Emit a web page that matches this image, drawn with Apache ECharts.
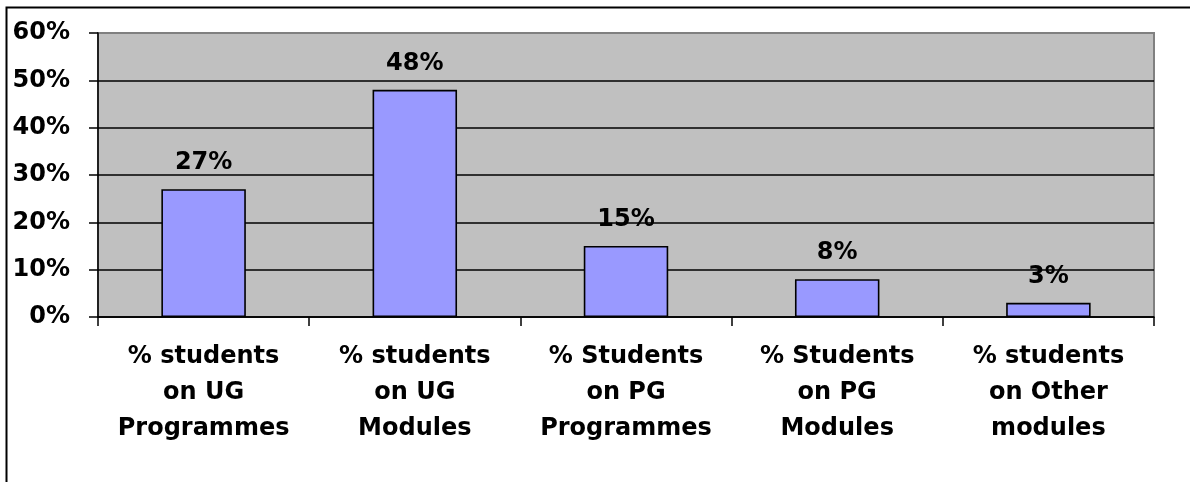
<!DOCTYPE html>
<html>
<head>
<meta charset="utf-8">
<script src="https://cdn.jsdelivr.net/npm/echarts@6/dist/echarts.min.js"></script>
<style>
html,body{margin:0;padding:0;background:#fff;}
#chart{width:1190px;height:482px;}
</style>
</head>
<body>
<div id="chart"></div>
<script>
const categories = [
  '% students\non UG\nProgrammes',
  '% students\non UG\nModules',
  '% Students\non PG\nProgrammes',
  '% Students\non PG\nModules',
  '% students\non Other\nmodules'
];
const values = [27, 48, 15, 8, 3];
const yTicks = { min: 0, max: 60, interval: 10 };

const FONT = '"DejaVu Sans", "Liberation Sans", Arial, sans-serif';
const chart = echarts.init(document.getElementById('chart'), null, { renderer: 'canvas' });
chart.setOption({
  animation: false,
  backgroundColor: '#ffffff',
  graphic: [{
    type: 'rect',
    shape: { x: 6.5, y: 7.5, width: 1300, height: 600 },
    style: { fill: 'none', stroke: '#000', lineWidth: 2 },
    z: 100
  }],
  grid: {
    left: 98, right: 36, top: 33, bottom: 165,
    show: true, backgroundColor: '#c0c0c0', borderColor: '#808080', borderWidth: 2
  },
  xAxis: {
    type: 'category',
    data: categories,
    axisLine: { show: true, lineStyle: { color: '#000', width: 1.5 } },
    axisTick: { show: true, length: 9, lineStyle: { color: '#000', width: 1.5 } },
    axisLabel: {
      interval: 0, margin: 22, color: '#000', fontFamily: FONT,
      fontWeight: 'bold', fontSize: 24, lineHeight: 36
    }
  },
  yAxis: {
    type: 'value',
    min: yTicks.min, max: yTicks.max, interval: yTicks.interval,
    axisLine: { show: true, lineStyle: { color: '#000', width: 1.5 } },
    axisTick: { show: true, length: 9, lineStyle: { color: '#000', width: 1.5 } },
    axisLabel: {
      margin: 28, color: '#000', fontFamily: FONT, fontWeight: 'bold', fontSize: 24,
      formatter: v => v + '%'
    },
    splitLine: { show: true, lineStyle: { color: ['#000','#000','#000','#000','#000','#000','#808080'], width: 1.6 } }
  },
  series: [{
    type: 'bar',
    data: values,
    barCategoryGap: '60%',
    itemStyle: { color: '#9999ff', borderColor: '#000', borderWidth: 1.6 },
    label: {
      show: true, position: 'top', distance: 14, color: '#000',
      fontFamily: FONT, fontWeight: 'bold', fontSize: 24,
      formatter: p => p.value + '%'
    }
  }]
});
</script>
</body>
</html>
